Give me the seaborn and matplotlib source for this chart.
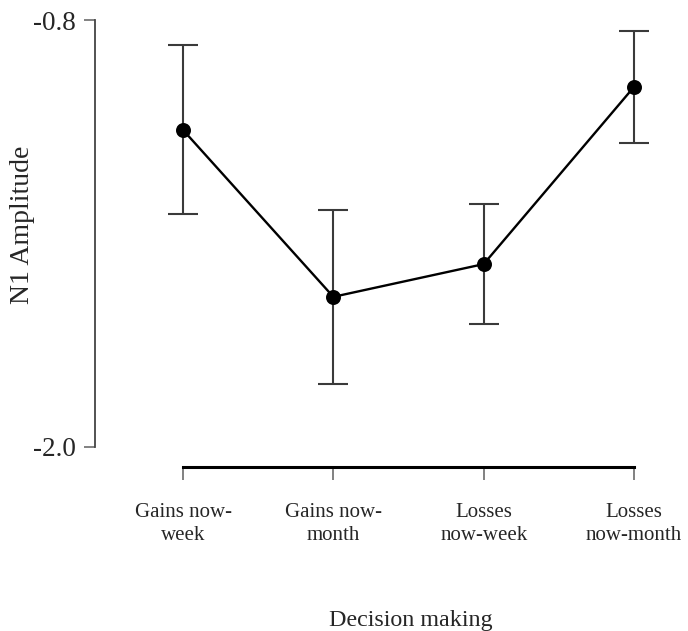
import numpy as np
import pandas as pd
import matplotlib
matplotlib.use("Agg")
import matplotlib.pyplot as plt
import seaborn as sns

# values
conditions = ["Gains now-\nweek", "Gains now-\nmonth", "Losses\nnow-week", "Losses\nnow-month"]
n1_mean = [-1.109, -1.578, -1.486, -0.988]
err_upper = [-0.870, -1.334, -1.317, -0.831]
err_lower = [-1.345, -1.823, -1.655, -1.146]

df = pd.DataFrame({"Condition": conditions, "N1": n1_mean})

sns.set_style("white")
plt.rcParams["font.family"] = ["Liberation Serif", "DejaVu Serif"]

fig = plt.figure(figsize=(6.88, 6.31), dpi=100)
ax = fig.add_axes([95 / 688, (631 - 447) / 631, (660 - 95) / 688, 427 / 631])

xpos = np.arange(len(conditions))
yerr = [np.array(n1_mean) - np.array(err_lower), np.array(err_upper) - np.array(n1_mean)]
ax.errorbar(xpos, n1_mean, yerr=yerr, fmt="none", ecolor="#3a3a3a",
            elinewidth=1.5, capsize=11, capthick=1.5, zorder=2)
sns.pointplot(data=df, x="Condition", y="N1", errorbar=None, color="black",
              markersize=9.5, linewidth=1.7, ax=ax, zorder=3)

ax.set_xlim(-88 / 150.3, 3 + 26 / 150.3)
ax.set_ylim(-2.0, -0.8)
ax.set_yticks([-2.0, -0.8])
ax.set_yticklabels(["-2.0", "-0.8"])

for side in ["top", "right"]:
    ax.spines[side].set_visible(False)
ax.spines["left"].set_bounds(-2.0, -0.8)
ax.spines["left"].set_color("#444444")
ax.spines["left"].set_linewidth(1.3)
ax.spines["bottom"].set_position(("outward", 14.4))
ax.spines["bottom"].set_bounds(0, 3)
ax.spines["bottom"].set_color("black")
ax.spines["bottom"].set_linewidth(2.2)

ax.tick_params(axis="y", direction="out", length=8, width=1.3, color="#777777",
               labelsize=19.5, pad=6, left=True)
ax.tick_params(axis="x", direction="out", length=9, width=1.3, color="#777777",
               labelsize=15, pad=17, bottom=True)
for lab in ax.get_xticklabels():
    lab.set_horizontalalignment("center")
    lab.set_multialignment("center")
    lab.set_linespacing(1.3)

ax.set_ylabel("N1 Amplitude", fontsize=20)
ax.yaxis.set_label_coords(-60 / 565, 0.52)
ax.set_xlabel("Decision making", fontsize=17.3)
ax.xaxis.set_label_coords((411 - 95) / 565, -(610 - 447) / 427)

fig.savefig("out.png", dpi=100)
